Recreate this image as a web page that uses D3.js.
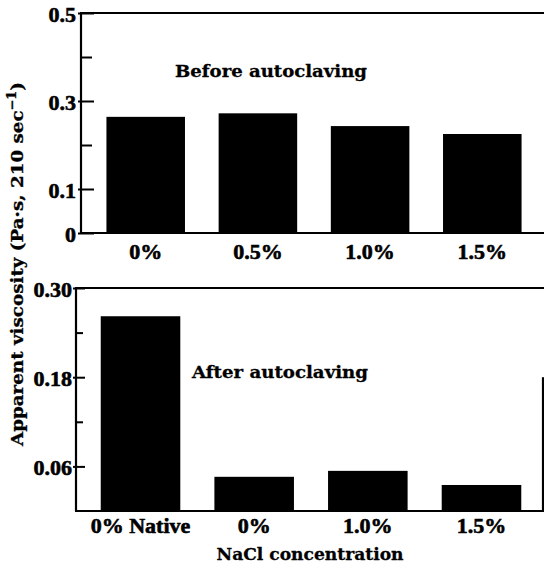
<!DOCTYPE html>
<html>
<head>
<meta charset="utf-8">
<script src="https://cdn.jsdelivr.net/npm/d3@7"></script>
<style>
  html, body { margin: 0; padding: 0; background: #fff; }
  svg { display: block; }
  .num { font-family: "Liberation Serif", "Times New Roman", serif; font-weight: bold; font-size: 22px; fill: #000; stroke: #000; stroke-width: 0.6px; }
  .word { font-family: "DejaVu Serif", serif; font-weight: bold; font-size: 17px; fill: #000; stroke: #000; stroke-width: 0.3px; }
</style>
</head>
<body>
<script>
// Apparent viscosity of pastes at several NaCl concentrations
const beforeCategories = ["0%", "0.5%", "1.0%", "1.5%"];
const beforeValues = [0.264, 0.272, 0.243, 0.225];
const beforeTicks = [0, 0.1, 0.3, 0.5];
const beforeMinorTicks = [0.2, 0.4];

const afterCategories = ["0% Native", "0%", "1.0%", "1.5%"];
const afterValues = [0.262, 0.046, 0.054, 0.035];
const afterTicks = [0.06, 0.18, 0.30];
const afterMinorTicks = [0.12, 0.24];

const W = 544, H = 565;
const svg = d3.select("body").append("svg").attr("width", W).attr("height", H);

function panel(opts) {
  const g = svg.append("g");
  const x = d3.scaleBand().domain(opts.categories).range([opts.x0, opts.x1])
    .paddingInner(0.3).paddingOuter(0.2);
  const y = d3.scaleLinear().domain(opts.domain).range([opts.yBottom, opts.yTop]);

  // bars
  g.selectAll("rect.bar").data(opts.values).join("rect")
    .attr("class", "bar")
    .attr("x", (d, i) => x(opts.categories[i]))
    .attr("width", x.bandwidth())
    .attr("y", d => y(d))
    .attr("height", d => y(0) - y(d))
    .attr("fill", "#000");

  // frame: left axis, top and bottom rules
  const fr = g.append("g").attr("stroke", "#000").attr("stroke-width", 2.2).attr("fill", "none");
  fr.append("line").attr("x1", opts.axisX).attr("x2", opts.axisX).attr("y1", opts.yTop).attr("y2", opts.yBottom);
  fr.append("line").attr("x1", opts.axisX - 1).attr("x2", W).attr("y1", opts.yTop).attr("y2", opts.yTop);
  fr.append("line").attr("x1", opts.axisX - 1).attr("x2", W).attr("y1", opts.yBottom).attr("y2", opts.yBottom);
  if (opts.rightRule) {
    fr.append("line").attr("x1", opts.rightRule.x).attr("x2", opts.rightRule.x)
      .attr("y1", y(opts.rightRule.from)).attr("y2", opts.yBottom + 1);
  }

  // labelled y ticks
  const axis = d3.axisLeft(y).tickValues(opts.ticks).tickFormat(opts.fmt)
    .tickSize(-opts.tickIn).tickPadding(opts.pad);
  const ag = g.append("g").attr("transform", `translate(${opts.axisX},0)`).call(axis);
  ag.select(".domain").remove();
  ag.selectAll(".tick line").attr("x1", -3).attr("stroke-width", 2);
  ag.selectAll(".tick text").attr("class", "num").attr("font-size", null).attr("font-family", null)
    .attr("dy", "0.38em");

  // minor y ticks
  const mg = g.append("g").attr("transform", `translate(${opts.axisX},0)`)
    .call(d3.axisLeft(y).tickValues(opts.minor).tickFormat("").tickSize(-opts.minorIn));
  mg.select(".domain").remove();
  mg.selectAll(".tick line").attr("stroke-width", 2);

  // category labels
  g.selectAll("text.cat").data(opts.categories).join("text")
    .attr("class", "num")
    .attr("text-anchor", "middle")
    .attr("x", d => x(d) + x.bandwidth() / 2)
    .attr("y", opts.catY)
    .text(d => d);

  // panel title
  g.append("text").attr("class", "word")
    .attr("x", opts.title.x).attr("y", opts.title.y)
    .attr("textLength", opts.title.len).attr("lengthAdjust", "spacingAndGlyphs")
    .text(opts.title.text);

  return { x, y };
}

panel({
  categories: beforeCategories, values: beforeValues,
  domain: [0, 0.5], yTop: 13, yBottom: 233, axisX: 81, x0: 84, x1: 544,
  ticks: beforeTicks, minor: beforeMinorTicks, tickIn: 13, minorIn: 11, pad: 5,
  fmt: d => d === 0 ? "0" : d3.format(".1f")(d),
  catY: 259,
  title: { text: "Before autoclaving", x: 175, y: 77, len: 192 }
});

panel({
  categories: afterCategories, values: afterValues,
  domain: [0, 0.30], yTop: 288, yBottom: 511, axisX: 76, x0: 78, x1: 544,
  ticks: afterTicks, minor: afterMinorTicks, tickIn: 9, minorIn: 7, pad: 4,
  fmt: d3.format(".2f"),
  catY: 533,
  rightRule: { x: 543, from: 0.18 },
  title: { text: "After autoclaving", x: 192, y: 378, len: 176 }
});

// x axis title
svg.append("text").attr("class", "word")
  .attr("x", 310).attr("y", 560).attr("text-anchor", "middle")
  .attr("textLength", 187).attr("lengthAdjust", "spacingAndGlyphs")
  .text("NaCl concentration");

// y axis title, shared by both panels
const yt = svg.append("text").attr("class", "word")
  .attr("transform", "translate(23,264) rotate(-90)")
  .attr("text-anchor", "middle")
  .attr("textLength", 364).attr("lengthAdjust", "spacingAndGlyphs");
yt.append("tspan").text("Apparent viscosity (Pa·s, 210 sec");
yt.append("tspan").attr("font-size", 12).attr("dy", -7).text("−1");
yt.append("tspan").attr("dy", 7).text(")");
</script>
</body>
</html>
